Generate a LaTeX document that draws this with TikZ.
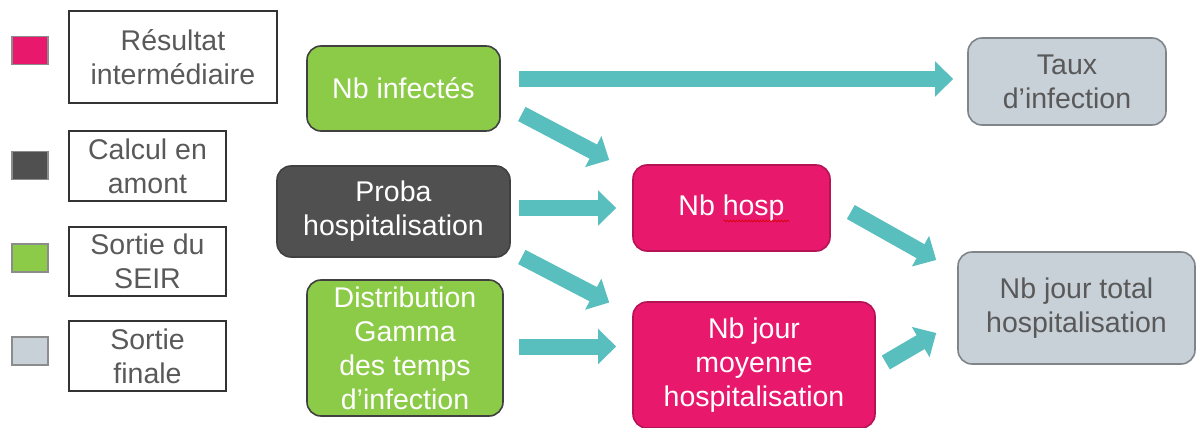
\documentclass[tikz,border=0pt]{standalone}
\usepackage{fontspec}
\setmainfont{Liberation Sans}
\usetikzlibrary{arrows.meta,decorations.pathmorphing}

\definecolor{resmag}{RGB}{232,24,109}
\definecolor{resmagdark}{RGB}{180,20,85}
\definecolor{seirgreen}{RGB}{140,203,72}
\definecolor{calcdark}{RGB}{80,80,80}
\definecolor{finalgrey}{RGB}{200,208,216}
\definecolor{finalborder}{RGB}{128,133,138}
\definecolor{flowteal}{RGB}{88,190,190}
\definecolor{labeltext}{RGB}{89,89,89}
\definecolor{swatchborder}{RGB}{140,140,140}

\tikzset{
  txt/.style={font=\fontsize{28.5}{34}\selectfont, align=center, inner sep=0pt},
  box/.style={txt, rounded corners=14pt, line width=1.6pt},
  inter/.style={box, fill=resmag, draw=resmagdark, text=white},
  upstream/.style={box, fill=calcdark, draw=black!75, text=white},
  seir/.style={box, fill=seirgreen, draw=black!75, text=white},
  final/.style={box, fill=finalgrey, draw=finalborder, text=labeltext},
  keybox/.style={txt, draw=black!80, line width=1.6pt, text=labeltext},
  swatch/.style={draw=swatchborder, line width=1.4pt, minimum width=36pt, minimum height=28pt, inner sep=0pt},
  flow/.style={draw=flowteal, line width=16pt, -{Triangle[length=18pt,width=34pt]}, flowteal}
}

\begin{document}
\begin{tikzpicture}[x=1pt,y=-1pt]
\useasboundingbox (0,0) rectangle (1196,428);

% legend
\node[swatch, fill=resmag]     (k1) at (30,50.5) {};
\node[swatch, fill=calcdark]   (k2) at (30,165.5) {};
\node[swatch, fill=seirgreen]  (k3) at (30,258) {};
\node[swatch, fill=finalgrey]  (k4) at (30,351) {};
\node[keybox, minimum width=208pt, minimum height=92pt] (l1) at (173,57) {Résultat\\intermédiaire};
\node[keybox, minimum width=157pt, minimum height=70pt] (l2) at (147.5,166) {Calcul en\\amont};
\node[keybox, minimum width=157pt, minimum height=69pt] (l3) at (147.5,261.5) {Sortie du\\SEIR};
\node[keybox, minimum width=157pt, minimum height=70pt] (l4) at (147.5,356) {Sortie\\finale};

% flow nodes
\node[seir, minimum width=193pt, minimum height=85pt]  (inf)   at (403.5,88.5) {Nb infectés};
\node[upstream, minimum width=233pt, minimum height=91pt] (proba) at (393.5,211.5) {Proba\\hospitalisation};
\node[seir, minimum width=196pt, minimum height=136pt] (gamma) at (405,348) {Distribution\\Gamma\\des temps\\d’infection};
\node[final, minimum width=198pt, minimum height=87pt] (taux)  at (1067,81.5) {Taux\\d’infection};
\node[inter, minimum width=197pt, minimum height=86pt] (hosp)  at (731.5,208) {Nb hosp};
\node[inter, minimum width=242pt, minimum height=126pt] (moy)  at (754,365) {Nb jour\\moyenne\\hospitalisation};
\node[final, minimum width=237pt, minimum height=112pt] (total) at (1076.5,308) {Nb jour total\\hospitalisation};

% spelling underline under "hosp"
\draw[red!85!black, line width=0.6pt, decoration={snake, amplitude=0.9pt, segment length=3pt}, decorate]
  ([shift={(-8,13)}]hosp.center) -- ([shift={(58,13)}]hosp.center);

% block arrows
\draw[flow] ([shift={(18,-9.5)}]inf.east)  -- ([shift={(-14,-2.5)}]taux.west);
\draw[flow] ([shift={(21,25.5)}]inf.east)  -- ([shift={(-23,-48)}]hosp.west);
\draw[flow] ([shift={(8,-3.5)}]proba.east) -- ([shift={(-16,0)}]hosp.west);
\draw[flow] ([shift={(11,45.5)}]proba.east) -- ([shift={(-23,-62.5)}]moy.west);
\draw[flow] ([shift={(15,-1.5)}]gamma.east) -- ([shift={(-16,-18.5)}]moy.west);
\draw[flow] ([shift={(20,4)}]hosp.east)    -- ([shift={(-21,-48)}]total.west);
\draw[flow] ([shift={(10,-2.5)}]moy.east)  -- ([shift={(-21,25)}]total.west);
\end{tikzpicture}
\end{document}
